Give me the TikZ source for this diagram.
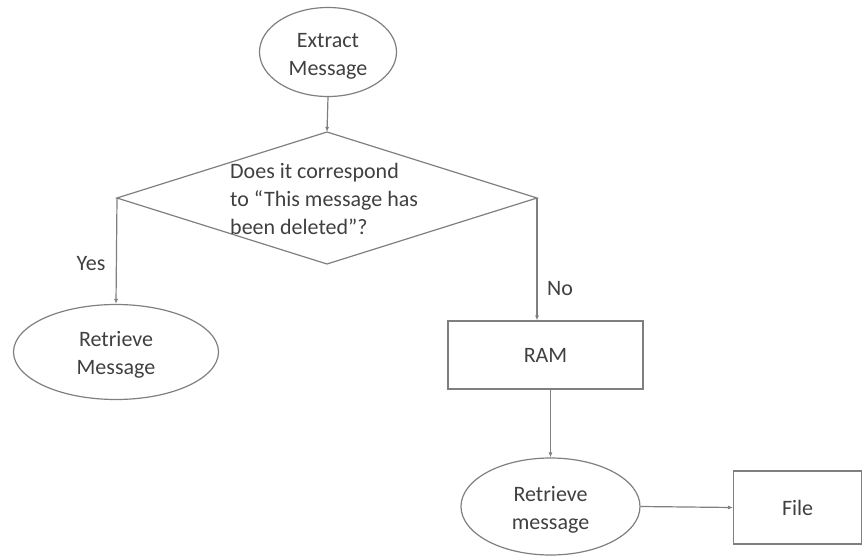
\documentclass[tikz,border=0pt]{standalone}
\usepackage{fontspec}
\setmainfont{Carlito}
\usetikzlibrary{shapes.geometric,arrows.meta}
\definecolor{txt}{HTML}{404040}
\definecolor{ln}{HTML}{7F7F7F}
\begin{document}
\begin{tikzpicture}[x=1pt,y=-1pt,
  every node/.style={font=\fontsize{22}{28}\selectfont,text=txt},
  shp/.style={draw=ln,line width=1.2pt,inner sep=0pt},
  ell/.style={shp,ellipse,align=center},
  boxn/.style={shp,rectangle},
  conn/.style={draw=ln,line width=1.2pt,-{Latex[length=5pt,width=4pt]}},
  plain/.style={draw=ln,line width=1.2pt}]
\useasboundingbox (0,0) rectangle (862,557);
\node[ell,minimum width=137,minimum height=89] (ext) at (328,52) {};
\node (extt) at (328,56) [align=center] {Extract\\Message};
\coordinate (dt) at (327,132);
\coordinate (dl) at (117,198);
\coordinate (dr) at (537,198);
\coordinate (db) at (327,264);
\draw[plain] (dt) -- (dr) -- (db) -- (dl) -- cycle;
\node[align=left,anchor=north west,inner sep=0pt] (q) at (230,163) {Does it correspond\\to ``This message has\\been deleted''?};
\node[ell,minimum width=205,minimum height=95] (rm1) at (116,352) {};
\node[align=center] (rm1t) at (116,355) {Retrieve\\Message};
\node[boxn,minimum width=195,minimum height=68] (ram) at (545.5,355) {RAM};
\node[ell,minimum width=179,minimum height=97] (rm2) at (550.5,506.5) {};
\node[align=center] (rm2t) at (550.5,510) {Retrieve\\message};
\node[boxn,minimum width=128,minimum height=73,anchor=west] (file) at (733,507.5) {File};
\draw[conn] (ext.south) -- (dt);
\draw[conn] (dl) -- (rm1.north);
\draw[conn] (dr) -- (dr |- ram.north);
\draw[conn] (ram.south -| rm2.north) -- (rm2.north);
\draw[conn] (rm2.east) -- (file.west);
\node (yes) at (91,264) {Yes};
\node (no) at (560,289) {No};
\end{tikzpicture}
\end{document}
